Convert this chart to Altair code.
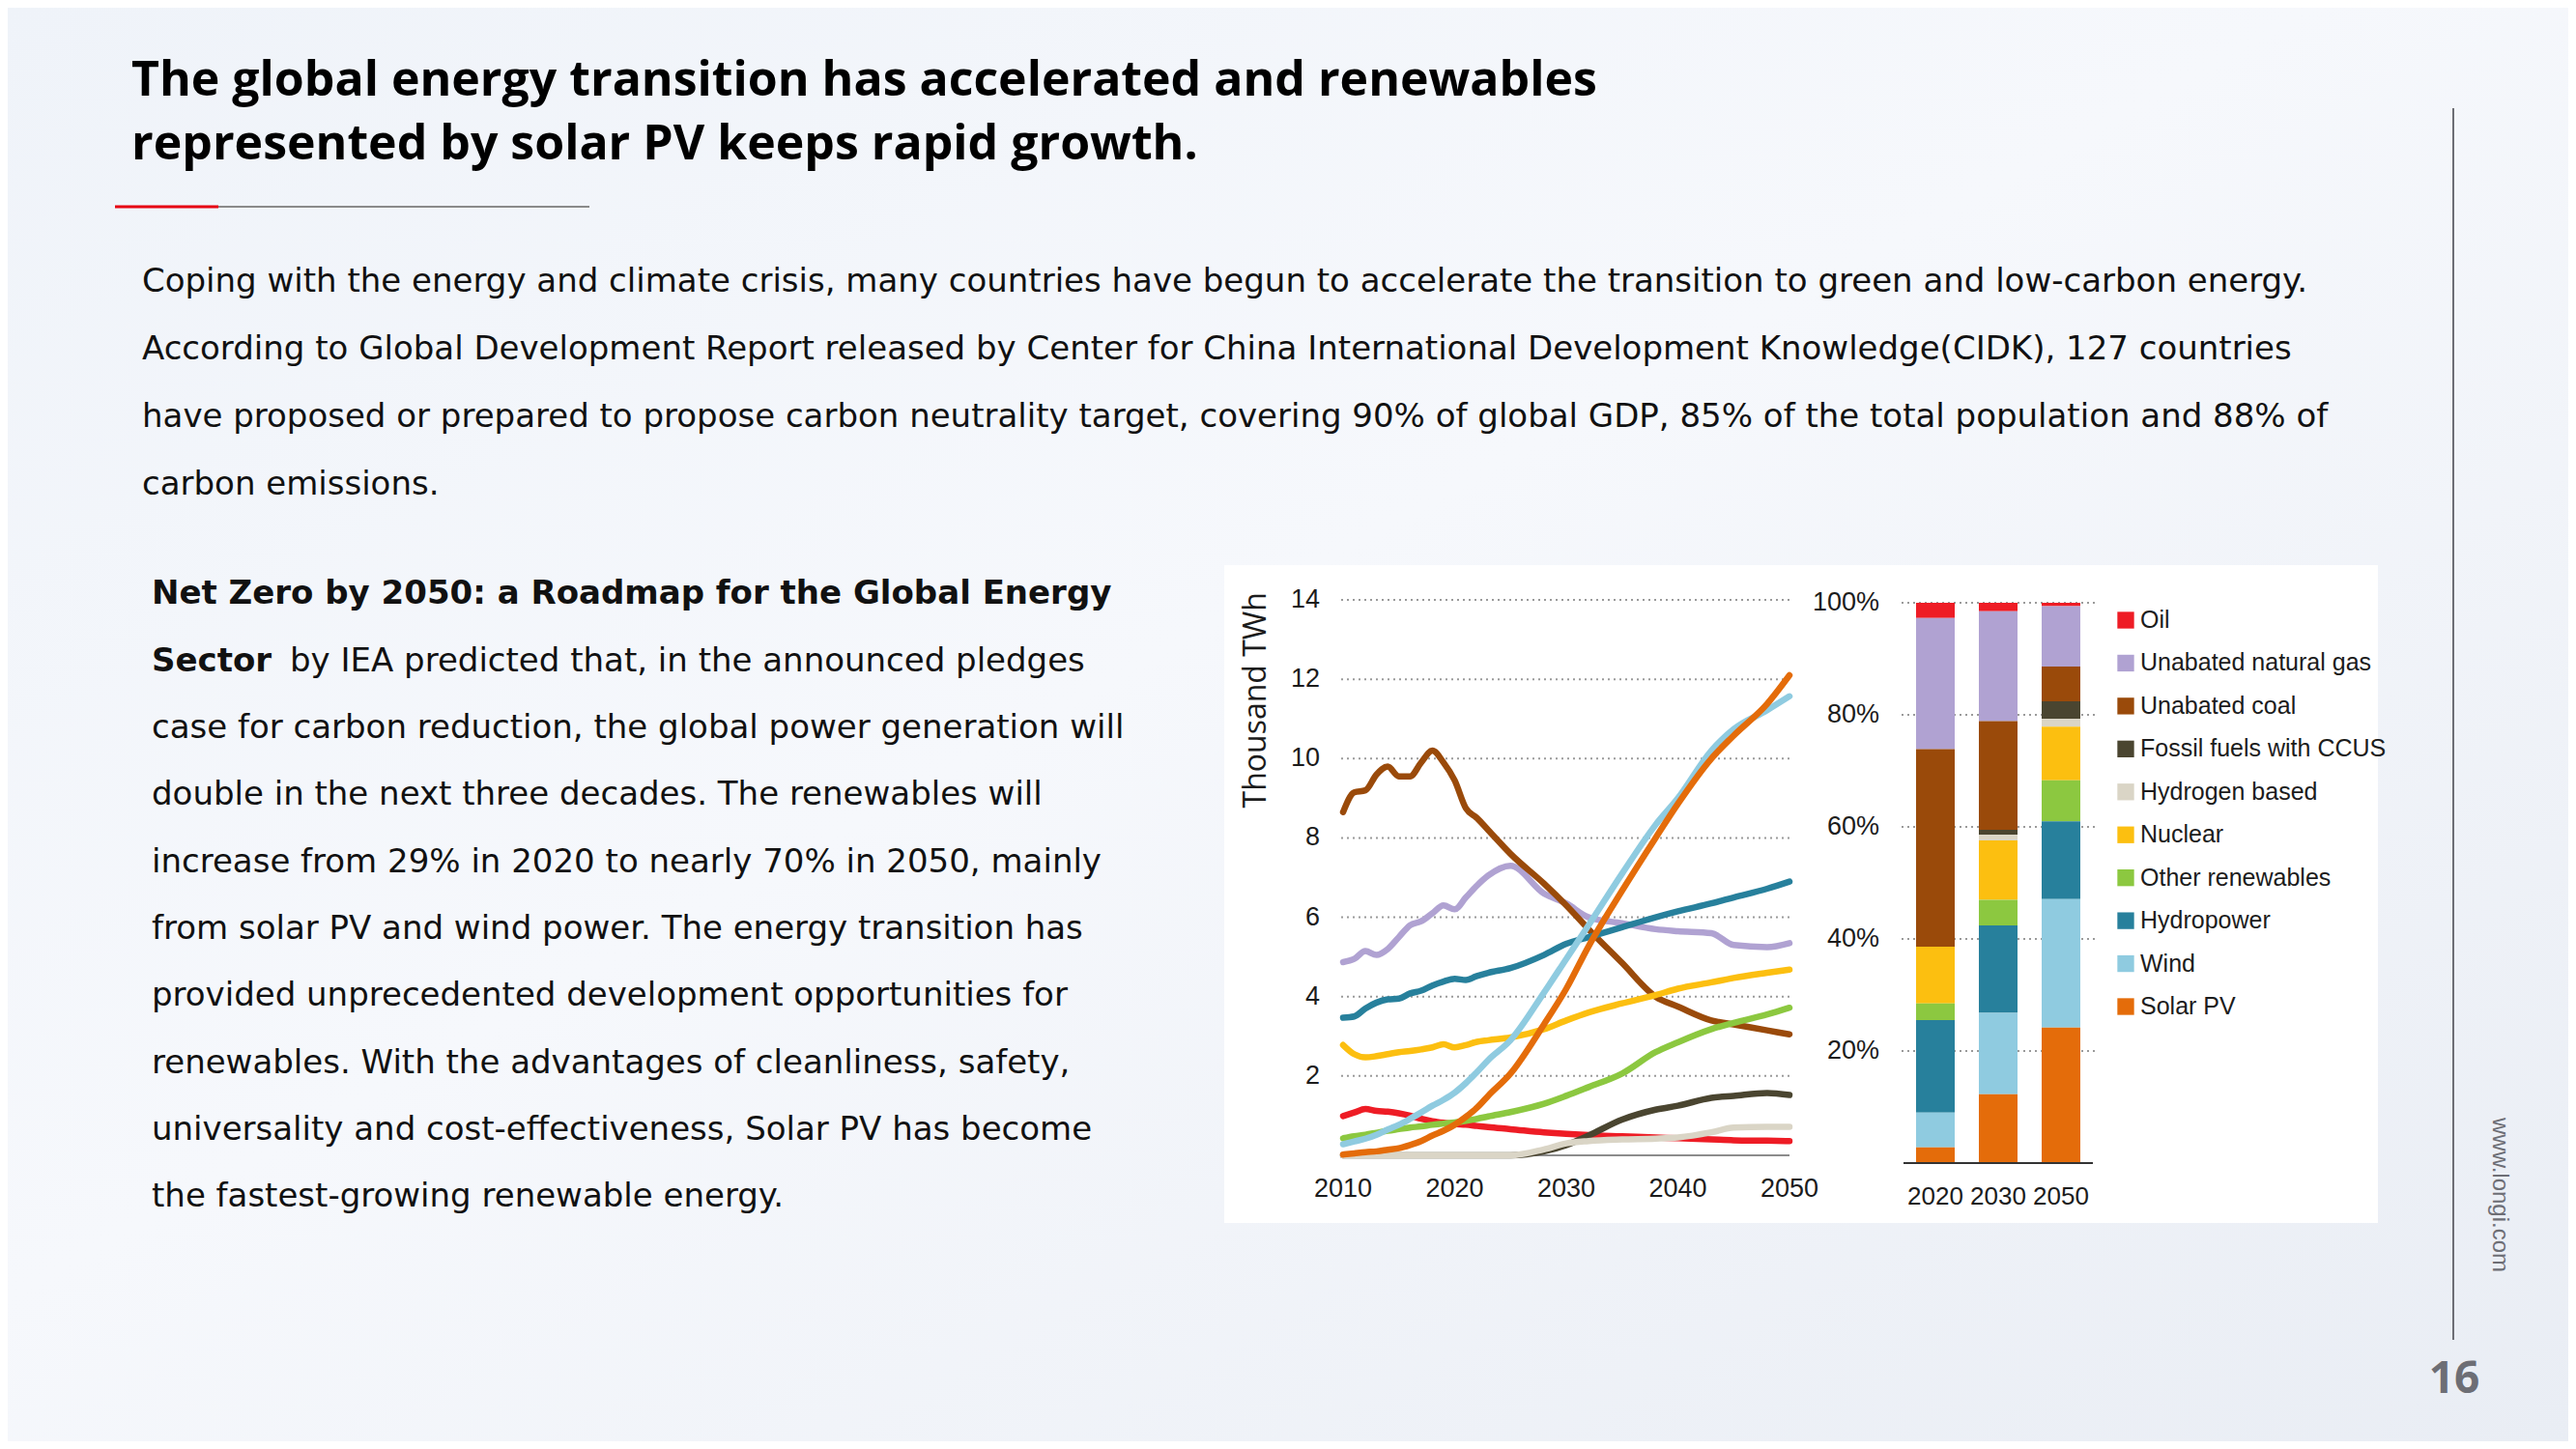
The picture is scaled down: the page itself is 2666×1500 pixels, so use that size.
import altair as alt
import pandas as pd

# ---------------- data ----------------
SOURCES = ["Oil", "Unabated natural gas", "Unabated coal", "Fossil fuels with CCUS",
           "Hydrogen based", "Nuclear", "Other renewables", "Hydropower", "Wind", "Solar PV"]
COLORS = ["#ee1c25", "#b0a2d2", "#9a4a0a", "#4a4530", "#dad5c6",
          "#fcbf10", "#8cc840", "#27809c", "#8fcbe0", "#e46c0a"]

YEARS = [2010, 2011, 2012, 2013, 2014, 2015, 2016, 2017, 2018, 2019, 2020, 2021, 2022,
         2023, 2025, 2028, 2030, 2032, 2035, 2038, 2040, 2043, 2045, 2048, 2050]
OIL = [0.99, 1.08, 1.17, 1.12, 1.10, 1.06, 1.00, 0.92, 0.86, 0.82, 0.79, 0.77, 0.74,
       0.71, 0.66, 0.58, 0.54, 0.51, 0.48, 0.45, 0.43, 0.40, 0.38, 0.37, 0.36]
GAS = [4.87, 4.95, 5.15, 5.05, 5.20, 5.50, 5.80, 5.90, 6.10, 6.30, 6.20, 6.50, 6.80,
       7.05, 7.30, 6.60, 6.35, 6.00, 5.85, 5.70, 5.65, 5.60, 5.30, 5.25, 5.35]
COAL = [8.65, 9.15, 9.20, 9.60, 9.80, 9.55, 9.55, 9.90, 10.20, 9.90, 9.45, 8.75, 8.50,
        8.20, 7.60, 6.85, 6.30, 5.70, 4.85, 4.00, 3.75, 3.40, 3.30, 3.15, 3.05]
CCUS = [0, 0, 0, 0, 0, 0, 0, 0, 0, 0, 0, 0, 0,
        0, 0, 0.10, 0.26, 0.50, 0.90, 1.15, 1.25, 1.45, 1.50, 1.57, 1.52]
HYDROGEN = [0, 0, 0, 0, 0, 0, 0, 0, 0, 0, 0, 0, 0,
            0, 0, 0.15, 0.30, 0.36, 0.40, 0.42, 0.45, 0.58, 0.70, 0.72, 0.72]
NUCLEAR = [2.78, 2.55, 2.47, 2.50, 2.55, 2.60, 2.63, 2.67, 2.72, 2.80, 2.72, 2.78, 2.86,
           2.90, 2.97, 3.18, 3.40, 3.60, 3.83, 4.04, 4.20, 4.36, 4.47, 4.60, 4.68]
OTHER = [0.43, 0.48, 0.52, 0.57, 0.62, 0.66, 0.70, 0.73, 0.77, 0.80, 0.83, 0.87, 0.92,
         0.98, 1.09, 1.30, 1.50, 1.72, 2.06, 2.60, 2.85, 3.18, 3.34, 3.55, 3.72]
HYDRO = [3.47, 3.50, 3.70, 3.85, 3.93, 3.95, 4.08, 4.15, 4.28, 4.38, 4.45, 4.42, 4.52,
         4.60, 4.72, 5.05, 5.33, 5.50, 5.75, 6.00, 6.15, 6.35, 6.50, 6.72, 6.90]
WIND = [0.28, 0.35, 0.42, 0.52, 0.65, 0.77, 0.92, 1.08, 1.25, 1.40, 1.58, 1.82, 2.10,
        2.40, 2.90, 4.10, 4.95, 5.80, 7.10, 8.33, 9.00, 10.20, 10.74, 11.22, 11.57]
SOLAR = [0.02, 0.05, 0.08, 0.10, 0.14, 0.18, 0.26, 0.36, 0.50, 0.62, 0.77, 0.97, 1.20,
         1.50, 2.06, 3.30, 4.20, 5.27, 6.67, 8.00, 8.86, 10.00, 10.58, 11.38, 12.10]
LINE_SERIES = [OIL, GAS, COAL, CCUS, HYDROGEN, NUCLEAR, OTHER, HYDRO, WIND, SOLAR]

LINE_Y_TICKS = [2, 4, 6, 8, 10, 12, 14]
LINE_X_TICKS = [2010, 2020, 2030, 2040, 2050]

BAR_YEARS = ["2020", "2030", "2050"]
# shares (%) in SOURCES order
SHARE_2020 = [2.7, 23.4, 35.3, 0.0, 0.0, 10.1, 3.0, 16.5, 6.2, 2.8]
SHARE_2030 = [1.5, 19.6, 19.4, 0.9, 1.0, 10.6, 4.6, 15.6, 14.5, 12.3]
SHARE_2050 = [0.6, 10.8, 6.2, 3.1, 1.4, 9.6, 7.3, 13.9, 22.9, 24.2]
BAR_Y_TICKS = [20, 40, 60, 80, 100]
BAR_Y_LABELS = ["20%", "40%", "60%", "80%", "100%"]

TITLE = ["The global energy transition has accelerated and renewables",
         "represented by solar PV keeps rapid growth."]
INTRO = ["Coping with the energy and climate crisis, many countries have begun to accelerate the transition to green and low-carbon energy.",
         "According to Global Development Report released by Center for China International Development Knowledge(CIDK), 127 countries",
         "have proposed or prepared to propose carbon neutrality target, covering 90% of global GDP, 85% of the total population and 88% of",
         "carbon emissions."]
LEFT_BOLD_1 = "Net Zero by 2050: a Roadmap for the Global Energy"
LEFT_BOLD_2 = "Sector"
LEFT_REST_2 = "by IEA predicted that, in the announced pledges"
LEFT_BODY = ["case for carbon reduction, the global power generation will",
             "double in the next three decades. The renewables will",
             "increase from 29%  in 2020 to nearly 70% in 2050, mainly",
             "from solar PV and wind power. The energy transition has",
             "provided unprecedented development opportunities for",
             "renewables. With the advantages of cleanliness, safety,",
             "universality and cost-effectiveness, Solar PV has become",
             "the fastest-growing renewable energy."]
Y_TITLE = "Thousand TWh"
SITE = "www.longi.com"
PAGE = "16"

# ---------------- layout helpers ----------------
W, H = 2650, 1484


def P(v):
    return v - 8


BODY_FONT = "DejaVu Sans"
CHART_FONT = "Liberation Sans"
TITLE_FONT = "Open Sans"
GREY = "#6d6e75"
INK = "#1c1c1c"

one = pd.DataFrame({"k": [0]})


def text_layer(txt, x, y, size, font=BODY_FONT, weight="normal", color="#111111",
               align="left", baseline="alphabetic", angle=0, line_height=None):
    kw = dict(text=txt, align=align, baseline=baseline, font=font, fontSize=size,
              fontWeight=weight, color=color)
    if angle:
        kw["angle"] = angle
    if line_height:
        kw["lineHeight"] = line_height
    return alt.Chart(one).mark_text(**kw).encode(x=alt.value(P(x)), y=alt.value(P(y)))


color_scale = alt.Scale(domain=SOURCES, range=COLORS)

# background
bg = alt.Chart(one).mark_rect(
    color=alt.Gradient(gradient="linear",
                       stops=[alt.GradientStop(color="#eff3f9", offset=0),
                              alt.GradientStop(color="#f6f8fc", offset=0.45),
                              alt.GradientStop(color="#e9edf4", offset=1)],
                       x1=0, x2=1, y1=0, y2=1)
).encode(x=alt.value(0), x2=alt.value(W), y=alt.value(0), y2=alt.value(H))

panel = alt.Chart(one).mark_rect(color="white").encode(
    x=alt.value(P(1267)), x2=alt.value(P(2461)), y=alt.value(P(585)), y2=alt.value(P(1266)))

# title + rules
title = text_layer(TITLE, 136, 99, 50, font=TITLE_FONT, weight="bold", color="#000000", line_height=66)
red_rule = alt.Chart(one).mark_rule(color="#e60012", strokeWidth=3).encode(
    x=alt.value(P(119)), x2=alt.value(P(226)), y=alt.value(P(214)))
grey_rule = alt.Chart(one).mark_rule(color="#8a8a8a", strokeWidth=2).encode(
    x=alt.value(P(226)), x2=alt.value(P(610)), y=alt.value(P(214)))

intro = text_layer(INTRO, 147, 302, 34, line_height=70)
left1 = text_layer(LEFT_BOLD_1, 157, 625, 34, weight="bold")
left2a = text_layer(LEFT_BOLD_2, 157, 695, 34, weight="bold")
left2b = text_layer(LEFT_REST_2, 300, 695, 34)
left3 = text_layer(LEFT_BODY, 157, 764, 34, line_height=69.3)

# right side decorations
vrule = alt.Chart(one).mark_rule(color=GREY, strokeWidth=2).encode(
    x=alt.value(P(2539)), y=alt.value(P(112)), y2=alt.value(P(1387)))
site = text_layer(SITE, 2587, 1237, 24, font="Liberation Sans", color=GREY,
                  align="center", baseline="middle", angle=90)
page = text_layer(PAGE, 2540, 1428, 46, font=TITLE_FONT, weight="bold", color=GREY,
                  align="center", baseline="middle")

# ---------------- line chart ----------------
line_x = alt.Scale(domain=[2010, 2050], range=[P(1390), P(1852)], nice=False, zero=False)
line_y = alt.Scale(domain=[0, 14], range=[P(1196), P(621)], nice=False)

rows = []
for src, vals in zip(SOURCES, LINE_SERIES):
    for yr, v in zip(YEARS, vals):
        rows.append({"source": src, "year": yr, "value": v})
line_df = pd.DataFrame(rows)

ly_df = pd.DataFrame({"v": LINE_Y_TICKS})
lx_df = pd.DataFrame({"v": LINE_X_TICKS})

line_grid = alt.Chart(ly_df).mark_rule(color="#9a9a9a", strokeWidth=2, strokeDash=[2, 4]).encode(
    y=alt.Y("v:Q", scale=line_y, axis=None), x=alt.value(P(1388)), x2=alt.value(P(1852)))
line_base = alt.Chart(pd.DataFrame({"v": [0]})).mark_rule(color="#8c8c8c", strokeWidth=2).encode(
    y=alt.Y("v:Q", scale=line_y, axis=None), x=alt.value(P(1390)), x2=alt.value(P(1852)))
lines = alt.Chart(line_df).mark_line(strokeWidth=6.5, interpolate="monotone", strokeCap="round").encode(
    x=alt.X("year:Q", scale=line_x, axis=None),
    y=alt.Y("value:Q", scale=line_y, axis=None),
    color=alt.Color("source:N", scale=color_scale, legend=None),
)
line_ylab = alt.Chart(ly_df).mark_text(align="right", baseline="middle", font=CHART_FONT,
                                       fontSize=27, color=INK).encode(
    y=alt.Y("v:Q", scale=line_y, axis=None), x=alt.value(P(1366)), text="v:Q")
line_xlab = alt.Chart(lx_df).mark_text(align="center", baseline="middle", font=CHART_FONT,
                                       fontSize=27, color=INK).encode(
    x=alt.X("v:Q", scale=line_x, axis=None), y=alt.value(P(1231)), text="v:Q")
ytitle = text_layer(Y_TITLE, 1300, 613, 32, font="Open Sans", color=INK,
                    align="right", baseline="middle", angle=270)

# ---------------- stacked bars ----------------
bar_x = alt.Scale(type="band", domain=BAR_YEARS, range=[P(1970.5), P(2165.5)],
                  paddingInner=0, paddingOuter=0)
bar_y = alt.Scale(domain=[0, 100], range=[P(1204), P(624)], nice=False)

brows = []
for yr, shares in zip(BAR_YEARS, [SHARE_2020, SHARE_2030, SHARE_2050]):
    for i, (src, s) in enumerate(zip(SOURCES, shares)):
        brows.append({"year": yr, "source": src, "share": s, "ord": len(SOURCES) - i})
bar_df = pd.DataFrame(brows)

by_df = pd.DataFrame({"v": BAR_Y_TICKS, "lab": BAR_Y_LABELS})
bar_grid = alt.Chart(by_df).mark_rule(color="#9a9a9a", strokeWidth=2, strokeDash=[2, 4]).encode(
    y=alt.Y("v:Q", scale=bar_y, axis=None), x=alt.value(P(1968)), x2=alt.value(P(2168)))
bars = alt.Chart(bar_df).mark_bar(width=40).encode(
    x=alt.X("year:N", scale=bar_x, axis=None),
    y=alt.Y("share:Q", stack="zero", scale=bar_y, axis=None),
    color=alt.Color("source:N", scale=color_scale, legend=None),
    order=alt.Order("ord:Q"),
)
bar_base = alt.Chart(pd.DataFrame({"v": [0]})).mark_rule(color="#333333", strokeWidth=2).encode(
    y=alt.Y("v:Q", scale=bar_y, axis=None), x=alt.value(P(1970)), x2=alt.value(P(2166)))
bar_ylab = alt.Chart(by_df).mark_text(align="right", baseline="middle", font=CHART_FONT,
                                      fontSize=27, color=INK).encode(
    y=alt.Y("v:Q", scale=bar_y, axis=None), x=alt.value(P(1945)), text="lab:N")
bar_xlab = alt.Chart(pd.DataFrame({"year": BAR_YEARS})).mark_text(
    align="center", baseline="middle", font=CHART_FONT, fontSize=26, color=INK).encode(
    x=alt.X("year:N", scale=bar_x, axis=None), y=alt.value(P(1239)), text="year:N")

# legend (manual, from the source list)
leg_df = pd.DataFrame({"source": SOURCES})
leg_y = alt.Scale(type="point", domain=SOURCES, range=[P(642), P(1042)], padding=0)
leg_sq = alt.Chart(leg_df).mark_square(size=300, opacity=1).encode(
    y=alt.Y("source:N", scale=leg_y, axis=None), x=alt.value(P(2200)),
    color=alt.Color("source:N", scale=color_scale, legend=None))
leg_txt = alt.Chart(leg_df).mark_text(align="left", baseline="middle", font=CHART_FONT,
                                      fontSize=25, color=INK).encode(
    y=alt.Y("source:N", scale=leg_y, axis=None), x=alt.value(P(2215)), text="source:N")

chart = alt.layer(
    bg, panel, title, red_rule, grey_rule, intro, left1, left2a, left2b, left3,
    vrule, site, page,
    line_grid, line_base, lines, line_ylab, line_xlab, ytitle,
    bar_grid, bars, bar_base, bar_ylab, bar_xlab, leg_sq, leg_txt,
).resolve_scale(x="independent", y="independent", color="shared").properties(
    width=W, height=H, padding=0, autosize=alt.AutoSizeParams(type="none")
).configure_view(stroke=None).configure(background="#f2f5fa")

chart.save("out.html", embed_options={"renderer": "svg", "actions": False})
